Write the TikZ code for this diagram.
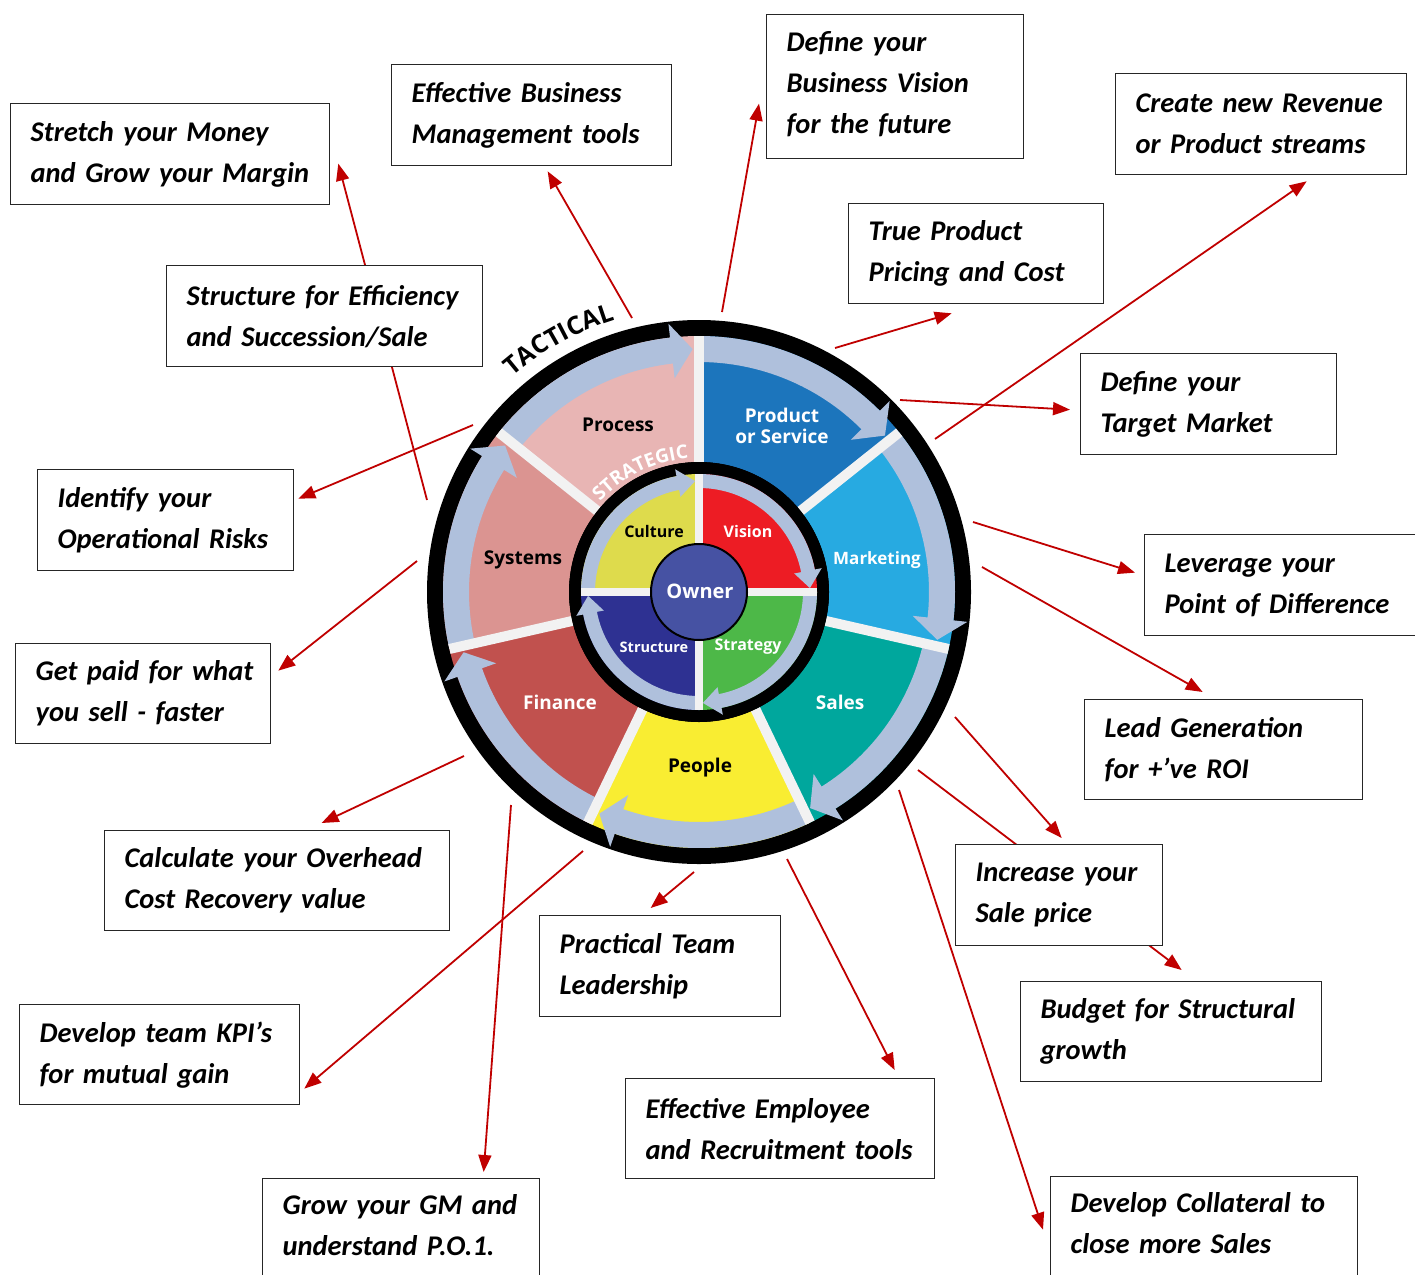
\documentclass[tikz,border=0pt]{standalone}
\usepackage{fontspec}
\setmainfont{Carlito}
\newfontfamily\wf{Open Sans}
\usetikzlibrary{arrows.meta,decorations.text}
\pgfdeclarelayer{bg}
\pgfsetlayers{bg,main}
\definecolor{cProd}{RGB}{28,117,188}
\definecolor{cMark}{RGB}{39,170,225}
\definecolor{cSales}{RGB}{0,167,157}
\definecolor{cPeople}{RGB}{249,237,50}
\definecolor{cFin}{RGB}{193,81,78}
\definecolor{cSys}{RGB}{219,148,145}
\definecolor{cProc}{RGB}{232,181,180}
\definecolor{lav}{RGB}{175,192,220}
\definecolor{cCult}{RGB}{222,219,76}
\definecolor{cVis}{RGB}{237,28,36}
\definecolor{cStrat}{RGB}{77,184,72}
\definecolor{cStruc}{RGB}{46,49,146}
\definecolor{cOwner}{RGB}{70,82,163}
\definecolor{divc}{RGB}{242,242,242}
\definecolor{arrred}{RGB}{192,0,0}
\newcommand\boxfont{\bfseries\itshape\fontsize{28.5}{41}\selectfont}
\newcommand\segfont{\wf\bfseries\fontsize{19}{21}\selectfont}
\newcommand\quadfont{\wf\bfseries\fontsize{16}{18}\selectfont}
\newcommand\tactfont{\wf\bfseries\fontsize{25}{25}\selectfont}
\newcommand\stratfont{\wf\bfseries\fontsize{19}{19}\selectfont}
\newcommand\twol[2]{\mbox{#1}\\\mbox{#2}}
\begin{document}
\begin{tikzpicture}[x=1pt,y=1pt,
  box/.style={draw=black!85, line width=1.3pt, fill=white, anchor=north west,
    align=left, inner xsep=20pt, inner ysep=0pt, font=\boxfont},
  arr/.style={draw=arrred, line width=1.8pt, -{Triangle[length=17pt,width=13pt]}},
  seglab/.style={font=\segfont, align=center, inner sep=0pt},
  quadlab/.style={font=\quadfont, inner sep=0pt}]
\useasboundingbox (0,0) rectangle (1415,-1274);
\begin{pgfonlayer}{bg}
\fill[white] (0,0) rectangle (1415,-1274);
\end{pgfonlayer}

% ---------- wheel ----------
\begin{scope}[shift={(699,-592)}]
\fill[black] (0,0) circle (272);
\foreach \i/\c in {0/cProd,1/cMark,2/cSales,3/cPeople,4/cFin,5/cSys,6/cProc}{
  \pgfmathsetmacro\aS{90-\i*360/7}
  \pgfmathsetmacro\aE{\aS-360/7}
  \fill[\c] (\aS:130) -- (\aS:256) arc[start angle=\aS,end angle=\aE,radius=256]
     -- (\aE:130) arc[start angle=\aE,end angle=\aS,radius=130] -- cycle;
  \fill[lav] (\aS:230) -- (\aS:256) arc[start angle=\aS,end angle=\aE+6.5,radius=256]
     -- (\aE+6.5:270) -- (\aE+1.5:243) -- (\aE+6.5:215) -- (\aE+6.5:230)
     arc[start angle=\aE+6.5,end angle=\aS,radius=230] -- cycle;
}
\foreach \k in {0,...,6}{
  \draw[divc, line width=10pt] ({90-\k*360/7}:130) -- ({90-\k*360/7}:256);
}
\fill[black] (0,0) circle (130);
\foreach \i/\c in {0/cVis,1/cStrat,2/cStruc,3/cCult}{
  \pgfmathsetmacro\aS{90-\i*90}
  \pgfmathsetmacro\aE{\aS-90}
  \fill[\c] (0,0) -- (\aS:118) arc[start angle=\aS,end angle=\aE,radius=118] -- cycle;
  \fill[lav] (\aS:104) -- (\aS:118) arc[start angle=\aS,end angle=\aE+11,radius=118]
     -- (\aE+11:125) -- (\aE+2:111) -- (\aE+11:97) -- (\aE+11:104)
     arc[start angle=\aE+11,end angle=\aS,radius=104] -- cycle;
}
\foreach \k in {0,90,180,270}{
  \draw[divc, line width=8pt] (\k:48) -- (\k:118);
}
\filldraw[fill=cOwner, draw=black, line width=2pt] (0,0) circle (48);
\path[decorate, decoration={text along path, text={|\tactfont|TACTICAL}, text align=center}]
  (152:285) arc[start angle=152,end angle=86,radius=285];
\path[decorate, decoration={text along path, text color=white, text={|\stratfont|STRATEGIC}, text align=center}]
  (142:134) arc[start angle=142,end angle=90,radius=134];
\end{scope}

% wheel labels
\node[seglab, text=black] (lproc) at (618,-425) {Process};
\node[seglab, text=white] (lprod) at (782,-426) {Product\\or Service};
\node[seglab, text=white, font=\wf\bfseries\fontsize{17}{19}\selectfont] (lmark) at (877,-560) {Marketing};
\node[seglab, text=white] (lsales) at (840,-702) {Sales};
\node[seglab, text=black] (lpeople) at (700,-768) {People};
\node[seglab, text=white] (lfin) at (560,-702) {Finance};
\node[seglab, text=black] (lsys) at (523,-560) {Systems};
\node[quadlab, text=black] (lcult) at (654,-531) {Culture};
\node[quadlab, text=white] (lvis) at (748,-531) {Vision};
\node[quadlab, text=white, font=\wf\bfseries\fontsize{14.5}{16}\selectfont] (lstruc) at (654,-647) {Structure};
\node[quadlab, text=white] (lstrat) at (748,-647) {Strategy};
\node[font=\wf\bfseries\fontsize{20}{22}\selectfont, text=white, inner sep=0pt] (lowner) at (700,-591) {Owner};

% ---------- boxes ----------
\node[box, text width=279pt, minimum height=101pt] (stretch) at (10,-103) {\twol{Stretch your Money}{and Grow your Margin}};
\node[box, text width=240pt, minimum height=101pt] (effbus) at (391,-64) {\twol{Effective Business}{Management tools}};
\node[box, text width=217pt, minimum height=144pt] (vision) at (766,-14) {\mbox{Define your}\\\mbox{Business Vision}\\\mbox{for the future}\\[-33pt]\mbox{}};
\node[box, text width=251pt, minimum height=101pt] (revenue) at (1115,-73) {\twol{Create new Revenue}{or Product streams}};
\node[box, text width=215pt, minimum height=100pt] (pricing) at (848,-203) {\twol{True Product}{Pricing and Cost}};
\node[box, text width=276pt, minimum height=101pt] (effic) at (166,-265) {\twol{Structure for Efficiency}{and Succession/Sale}};
\node[box, text width=216pt, minimum height=101pt] (target) at (1080,-353) {\twol{Define your}{Target Market}};
\node[box, text width=216pt, minimum height=101pt] (risks) at (37,-469) {\twol{Identify your}{Operational Risks}};
\node[box, text width=250pt, minimum height=101pt] (leverage) at (1144,-534) {\twol{Leverage your}{Point of Difference}};
\node[box, text width=215pt, minimum height=100pt] (paid) at (15,-643) {\twol{Get paid for what}{you sell - faster}};
\node[box, text width=238pt, minimum height=100pt] (lead) at (1084,-699) {\twol{Lead Generation}{for +’ve ROI}};
\node[box, text width=305pt, minimum height=100pt] (overhead) at (104,-830) {\twol{Calculate your Overhead}{Cost Recovery value}};
\node[box, text width=167pt, minimum height=101pt] (increase) at (955,-844) {\twol{Increase your}{Sale price}};
\node[box, text width=201pt, minimum height=101pt] (team) at (539,-915) {\twol{Practical Team}{Leadership}};
\node[box, text width=261pt, minimum height=100pt] (budget) at (1020,-981) {\twol{Budget for Structural}{growth}};
\node[box, text width=240pt, minimum height=100pt] (kpi) at (19,-1004) {\twol{Develop team KPI’s}{for mutual gain}};
\node[box, text width=269pt, minimum height=100pt] (employee) at (625,-1078) {\twol{Effective Employee}{and Recruitment tools}};
\node[box, text width=237pt, minimum height=104pt] (grow) at (262,-1178) {\twol{Grow your GM and}{understand P.O.1.}\\[-29pt]\mbox{}};
\node[box, text width=267pt, minimum height=104pt] (collateral) at (1050,-1176) {\twol{Develop Collateral to}{close more Sales}\\[-29pt]\mbox{}};

% ---------- connector tails on the wheel ----------
\coordinate (w1) at (427,-500);
\coordinate (w2) at (632,-318);
\coordinate (w3) at (722,-312);
\coordinate (w4) at (935,-439);
\coordinate (w5) at (835,-348);
\coordinate (w6) at (900,-400);
\coordinate (w7) at (473,-425);
\coordinate (w8) at (417,-561);
\coordinate (w9) at (464,-756);
\coordinate (w10) at (583,-851);
\coordinate (w11) at (511,-805);
\coordinate (w12) at (694,-872);
\coordinate (w13) at (787,-859);
\coordinate (w14) at (899,-790);
\coordinate (w15) at (955,-717);
\coordinate (w16) at (918,-770);
\coordinate (w17) at (982,-567);
\coordinate (w18) at (973,-522);

\begin{pgfonlayer}{bg}
\draw[arr] (w1) -- ([shift={(8,-9.5)}]stretch.east);
\draw[arr] (w2) -- ([shift={(16,-5)}]effbus.south);
\draw[arr] (w3) -- ([shift={(-7,-17)}]vision.west);
\draw[arr] (w4) -- ([shift={(45.5,-6)}]revenue.south);
\draw[arr] (w5) -- ([shift={(-24.5,-9)}]pricing.south);
\draw[arr] (w6) -- ([shift={(-10,-5.5)}]target.west);
\draw[arr] (w7) -- ([shift={(4,21.5)}]risks.east);
\draw[arr] (w8) -- ([shift={(7,23)}]paid.east);
\draw[arr] (w9) -- ([shift={(44.5,7)}]overhead.north);
\draw[arr] (w10) -- ([shift={(4,-34)}]kpi.east);
\draw[arr] (w11) -- ([shift={(82.5,6)}]grow.north);
\draw[arr] (w12) -- ([shift={(-9.5,7)}]team.north);
\draw[arr] (w13) -- ([shift={(114.5,8)}]employee.north);
\draw[arr] (w14) -- ([shift={(-7,-1)}]collateral.west);
\draw[arr] (w15) -- ([shift={(2.5,6)}]increase.north);
\draw[arr] (w16) -- ([shift={(10.5,11)}]budget.north);
\draw[arr] (w17) -- ([shift={(-21,7)}]lead.north);
\draw[arr] (w18) -- ([shift={(-9,12.5)}]leverage.west);
\end{pgfonlayer}
\end{tikzpicture}
\end{document}
